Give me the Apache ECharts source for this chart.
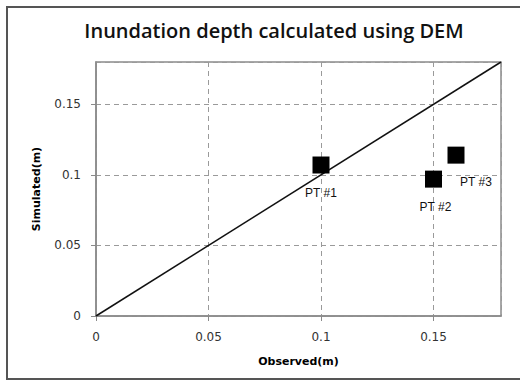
<!DOCTYPE html>
<html>
<head>
<meta charset="utf-8">
<script src="https://cdn.jsdelivr.net/npm/echarts@6/dist/echarts.min.js"></script>
<style>
  html, body { margin: 0; padding: 0; background: #fff; }
  #chart { width: 520px; height: 381px; }
</style>
</head>
<body>
<div id="chart"></div>
<script>
// 数据
const pointNames = ['PT #1', 'PT #2', 'PT #3'];
const observed = [0.1, 0.15, 0.16];
const simulated = [0.107, 0.097, 0.114];
const lineX = [0, 0.18];
const lineY = [0, 0.18];

const chart = echarts.init(document.getElementById('chart'), null, { renderer: 'svg' });

// label offsets for each point
const labelOffsets = [[0, 28], [2, 28], [20, 27]];

const pts = observed.map((x, i) => ({
  name: pointNames[i],
  value: [x, simulated[i]],
  label: { offset: labelOffsets[i] }
}));

const axisCommon = {
  type: 'value',
  min: 0,
  max: 0.18,
  interval: 0.05,
  axisLine: { show: true, onZero: false, lineStyle: { color: '#8a8a8a', width: 1.5 } },
  axisTick: { show: true, length: 5, lineStyle: { color: '#8a8a8a' } },
  axisLabel: {
    showMaxLabel: false,
    margin: 15,
    color: '#333',
    fontFamily: 'DejaVu Sans',
    fontSize: 12
  },
  splitLine: { show: true, lineStyle: { color: '#9a9a9a', type: [5, 4], width: 1 } },
  nameLocation: 'middle',
  nameTextStyle: { fontFamily: 'DejaVu Sans', fontWeight: 'bold', fontSize: 11, color: '#000' }
};

chart.setOption({
  animation: false,
  title: {
    text: 'Inundation depth calculated using DEM',
    left: 269,
    top: 15,
    textAlign: 'center',
    textStyle: { fontFamily: 'Open Sans', fontWeight: 600, fontSize: 20, color: '#111' }
  },
  graphic: [{
    type: 'rect',
    shape: { x: 7, y: 7, width: 530, height: 372 },
    style: { fill: 'none', stroke: '#555', lineWidth: 2 },
    silent: true
  }],
  grid: {
    left: 96,
    right: 19,
    top: 62,
    bottom: 65,
    show: true,
    borderColor: '#8a8a8a',
    borderWidth: 1.5
  },
  xAxis: Object.assign({}, axisCommon, { name: 'Observed(m)', nameGap: 40 }),
  yAxis: Object.assign({}, axisCommon, { name: 'Simulated(m)', nameGap: 54 }),
  series: [
    {
      type: 'line',
      data: lineX.map((x, i) => [x, lineY[i]]),
      symbol: 'none',
      lineStyle: { color: '#111', width: 1.5 },
      z: 3
    },
    {
      type: 'scatter',
      data: pts,
      symbol: 'rect',
      symbolSize: 17,
      itemStyle: { color: '#000', opacity: 1 },
      label: {
        show: true,
        position: 'inside',
        formatter: '{b}',
        color: '#111',
        fontFamily: 'Liberation Sans',
        fontSize: 12
      },
      z: 4
    }
  ]
});
</script>
</body>
</html>
